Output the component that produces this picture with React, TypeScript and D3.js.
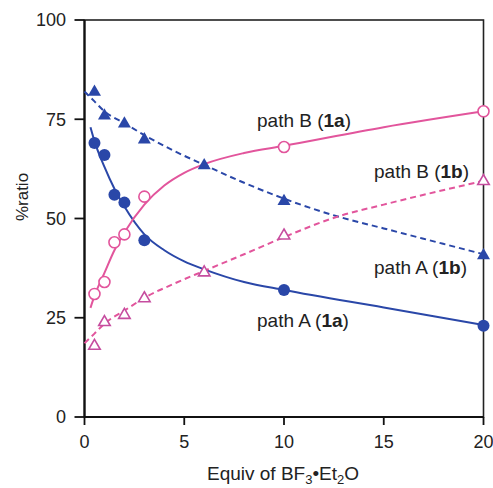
import React from "react";
import * as d3 from "d3";

// Measured data points
const circleX = [0.5, 1, 1.5, 2, 3, 10, 20];
const triangleX = [0.5, 1, 2, 3, 6, 10, 20];
const pathA1a = [69, 66, 56, 54, 44.5, 32, 23];
const pathB1a = [31, 34, 44, 46, 55.5, 68, 77];
const pathA1b = [82, 76, 74, 70, 63.5, 54.5, 40.8];
const pathB1b = [18, 24, 25.8, 30, 36.5, 45.8, 59.5];

// Fitted curves
const fitA1aX = [0.3, 0.5, 1, 1.5, 2, 3, 4, 5, 6, 8, 10, 15, 20];
const fitA1aY = [73, 69.5, 63, 57.5, 53, 46, 42, 39.2, 37.2, 34, 32, 27.6, 23.2];
const fitB1aX = [0.3, 0.5, 1, 1.5, 2, 3, 4, 5, 6, 8, 10, 15, 20];
const fitB1aY = [27.5, 30.5, 36.3, 42, 46.5, 53.5, 58.3, 61.5, 63.7, 66.5, 68.3, 73, 77];
const fitA1bX = [0, 0.5, 1, 2, 3, 4.5, 6, 8, 10, 12.7, 15, 20];
const fitA1bY = [82, 79.5, 77, 74, 71, 67, 63.5, 59, 55, 50.5, 47.5, 41];
const fitB1bX = [0, 0.5, 1, 2, 3, 4.5, 6, 8, 10, 12.7, 15, 20];
const fitB1bY = [18.6, 21, 23.5, 26.8, 30, 33.6, 36.8, 41, 45.3, 50.5, 53.5, 59.5];

const xTicks = [0, 5, 10, 15, 20];
const yTicks = [0, 25, 50, 75, 100];

const BLUE = "#2a47a8";
const PINK = "#e2559c";
const PURPLE = "#c64d9f";

export default function App() {
  const W = 493;
  const H = 488;
  const x = d3.scaleLinear().domain([0, 20]).range([84.5, 483.5]);
  const y = d3.scaleLinear().domain([0, 100]).range([417, 20]);
  const line = d3
    .line<[number, number]>()
    .x((d) => x(d[0]))
    .y((d) => y(d[1]))
    .curve(d3.curveMonotoneX);
  const zip = (a: number[], b: number[]) => a.map((v, i) => [v, b[i]] as [number, number]);
  const tri = (cx: number, cy: number, s: number) => {
    const h = s * 0.866;
    return `M${cx},${cy - h * 0.62}L${cx + s / 2},${cy + h * 0.38}L${cx - s / 2},${cy + h * 0.38}Z`;
  };
  const font = "'Liberation Sans', Arial, Helvetica, sans-serif";

  return (
    <svg
      width={W}
      height={H}
      style={{ position: "absolute", left: 0, top: 0, background: "#fff" }}
      fontFamily={font}
    >
      {/* frame */}
      <rect x={x(0)} y={y(100)} width={x(20) - x(0)} height={y(0) - y(100)} fill="none" stroke="#222" strokeWidth={1.6} />
      <line x1={x(0)} x2={x(0)} y1={y(100)} y2={y(0)} stroke="#111" strokeWidth={2.2} />
      <line x1={x(0)} x2={x(20)} y1={y(0)} y2={y(0)} stroke="#111" strokeWidth={2.2} />
      {/* y ticks */}
      {yTicks.map((t) => (
        <g key={"y" + t}>
          <line x1={x(0) - 10} x2={x(0)} y1={y(t)} y2={y(t)} stroke="#111" strokeWidth={1.8} />
          <text x={66} y={y(t)} dy="0.36em" textAnchor="end" fontSize={18} fill="#222">
            {t}
          </text>
        </g>
      ))}
      {/* x ticks */}
      {xTicks.map((t) => (
        <g key={"x" + t}>
          <line x1={x(t)} x2={x(t)} y1={y(0)} y2={y(0) + 8} stroke="#111" strokeWidth={1.8} />
          <text x={x(t)} y={448} textAnchor="middle" fontSize={18} fill="#222">
            {t}
          </text>
        </g>
      ))}
      <text x={283} y={480} textAnchor="middle" fontSize={19} fill="#222">
        Equiv of BF
        <tspan fontSize={13} dy={4}>3</tspan>
        <tspan dy={-4}>•Et</tspan>
        <tspan fontSize={13} dy={4}>2</tspan>
        <tspan dy={-4}>O</tspan>
      </text>
      <text transform={`translate(28,197) rotate(-90)`} textAnchor="middle" fontSize={17} fill="#222">
        %ratio
      </text>

      {/* curves */}
      <path d={line(zip(fitA1aX, fitA1aY)) || ""} fill="none" stroke={BLUE} strokeWidth={2} />
      <path d={line(zip(fitB1aX, fitB1aY)) || ""} fill="none" stroke={PINK} strokeWidth={2} />
      <path d={line(zip(fitA1bX, fitA1bY)) || ""} fill="none" stroke={BLUE} strokeWidth={2} strokeDasharray="6,4" />
      <path d={line(zip(fitB1bX, fitB1bY)) || ""} fill="none" stroke={PINK} strokeWidth={2} strokeDasharray="6,4" />

      {/* markers */}
      {circleX.map((v, i) => (
        <circle key={"a1a" + i} cx={x(v)} cy={y(pathA1a[i])} r={6} fill={BLUE} />
      ))}
      {circleX.map((v, i) => (
        <circle key={"b1a" + i} cx={x(v)} cy={y(pathB1a[i])} r={5.5} fill="#fff" stroke={PINK} strokeWidth={1.6} />
      ))}
      {triangleX.map((v, i) => (
        <path key={"a1b" + i} d={tri(x(v), y(pathA1b[i]), 13)} fill={BLUE} />
      ))}
      {triangleX.map((v, i) => (
        <path key={"b1b" + i} d={tri(x(v), y(pathB1b[i]), 11.5)} fill="#fff" stroke={PURPLE} strokeWidth={1.6} />
      ))}

      {/* labels */}
      <text x={257} y={127} fontSize={19} fill="#222">
        path B (<tspan fontWeight="bold">1a</tspan>)
      </text>
      <text x={374} y={178} fontSize={19} fill="#222">
        path B (<tspan fontWeight="bold">1b</tspan>)
      </text>
      <text x={374} y={274} fontSize={19} fill="#222">
        path A (<tspan fontWeight="bold">1b</tspan>)
      </text>
      <text x={257} y={327} fontSize={19} fill="#222">
        path A (<tspan fontWeight="bold">1a</tspan>)
      </text>
    </svg>
  );
}
